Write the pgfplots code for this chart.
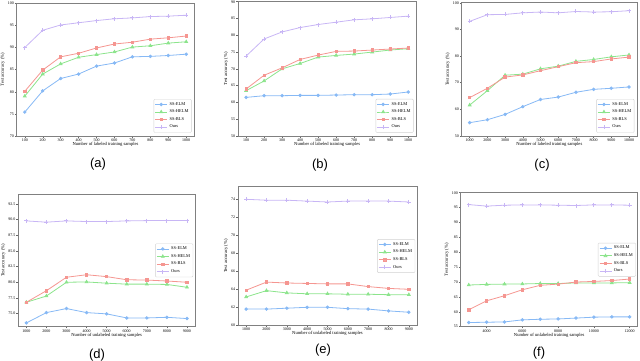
\documentclass[border=0pt]{standalone}
\usepackage{fontspec}
\setmainfont{Liberation Serif}
\newfontfamily\arialfont{Liberation Sans}
\usepackage{pgfplots}
\pgfplotsset{compat=1.18}

\definecolor{celm}{RGB}{135,185,245}
\definecolor{chelm}{RGB}{140,228,140}
\definecolor{cbls}{RGB}{245,150,145}
\definecolor{cours}{RGB}{200,182,245}

\pgfplotsset{
  panel/.style={scale only axis,
    axis line style={gray,line width=0.6pt},
    tick style={gray!80!black,line width=0.4pt},
    tick align=outside, major tick length=1.8pt,
    xtick pos=bottom, ytick pos=left,
    scaled x ticks=false, scaled y ticks=false,
    tick label style={font=\fontsize{4}{4.5}\selectfont,inner sep=0.8pt},
    label style={font=\fontsize{4.6}{5}\selectfont,inner sep=0.6pt},
    xlabel style={yshift=1pt},
    ylabel style={yshift=1.5pt},
    /pgf/number format/assume math mode=true,
    /pgf/number format/1000 sep={},
    ylabel={Test accuracy (\%)},
    enlarge x limits=0.05,
    legend cell align=left,
    legend style={font=\fontsize{4.4}{5}\selectfont, draw=gray!35, rounded corners=1pt,
      fill=white, fill opacity=0.85, text opacity=1, inner sep=1pt, row sep=-0.8pt},
    legend image code/.code={\draw[mark repeat=2,mark phase=2] plot coordinates {(0pt,0pt)(6pt,0pt)(12pt,0pt)};},
  },
  lowright/.style={legend style={at={(0.985,0.025)},anchor=south east}},
  midright/.style={legend style={at={(0.99,0.5)},anchor=east}},
  elm/.style={color=celm,line width=0.8pt,mark=*,mark size=1.3pt},
  helm/.style={color=chelm,line width=0.8pt,mark=triangle*,mark size=1.6pt},
  bls/.style={color=cbls,line width=0.8pt,mark=square*,mark size=1.2pt},
  ours/.style={color=cours,line width=0.8pt,mark=+,mark size=2pt,mark options={line width=0.9pt}},
}

\begin{document}
\begin{tikzpicture}
\path[use as bounding box] (0pt,0pt) rectangle (640pt,361pt);

% (a)
\begin{axis}[panel,lowright,at={(16.7pt,225pt)},anchor=south west,width=177.6pt,height=132.7pt,
  ymin=70,ymax=100,ytick={70,75,...,100},xtick={100,200,...,1000},
  xlabel={Number of labeled training samples}]
\addplot[elm] coordinates {(100,75.4)(200,80.2)(300,83.0)(400,84.0)(500,85.8)(600,86.5)(700,87.9)(800,88.0)(900,88.2)(1000,88.5)};
\addplot[helm] coordinates {(100,79.0)(200,84.0)(300,86.3)(400,87.8)(500,88.4)(600,89.0)(700,90.1)(800,90.4)(900,91.0)(1000,91.3)};
\addplot[bls] coordinates {(100,80.1)(200,84.9)(300,87.9)(400,88.7)(500,89.9)(600,90.8)(700,91.2)(800,91.9)(900,92.2)(1000,92.6)};
\addplot[ours] coordinates {(100,90.0)(200,93.9)(300,95.1)(400,95.6)(500,96.1)(600,96.5)(700,96.7)(800,97.0)(900,97.1)(1000,97.3)};
\legend{SS-ELM,SS-HELM,SS-BLS,Ours}
\end{axis}

% (b)
\begin{axis}[panel,lowright,at={(238pt,225pt)},anchor=south west,width=178.3pt,height=134.3pt,
  ymin=50,ymax=90,ytick={50,55,...,90},xtick={100,200,...,1000},
  xlabel={Number of labeled training samples}]
\addplot[elm] coordinates {(100,61.5)(200,62.0)(300,62.0)(400,62.1)(500,62.1)(600,62.2)(700,62.3)(800,62.3)(900,62.5)(1000,63.1)};
\addplot[helm] coordinates {(100,63.5)(200,66.4)(300,70.0)(400,71.6)(500,73.5)(600,74.0)(700,74.4)(800,75.0)(900,75.6)(1000,76.0)};
\addplot[bls] coordinates {(100,64.0)(200,68.1)(300,70.3)(400,72.8)(500,74.1)(600,75.2)(700,75.3)(800,75.6)(900,75.9)(1000,76.2)};
\addplot[ours] coordinates {(100,73.8)(200,78.9)(300,81.0)(400,82.3)(500,83.2)(600,83.9)(700,84.6)(800,84.9)(900,85.3)(1000,85.7)};
\legend{SS-ELM,SS-HELM,SS-BLS,Ours}
\end{axis}

% (c)
\begin{axis}[panel,lowright,at={(461.7pt,225pt)},anchor=south west,width=175.3pt,height=133.3pt,
  ymin=50,ymax=100,ytick={50,60,...,100},xtick={1000,2000,...,10000},
  xlabel={Number of labeled training samples}]
\addplot[elm] coordinates {(1000,55.0)(2000,56.1)(3000,58.1)(4000,61.0)(5000,63.7)(6000,64.6)(7000,66.4)(8000,67.5)(9000,67.9)(10000,68.4)};
\addplot[helm] coordinates {(1000,61.6)(2000,67.0)(3000,72.8)(4000,73.2)(5000,75.2)(6000,76.2)(7000,78.0)(8000,78.7)(9000,79.7)(10000,80.4)};
\addplot[bls] coordinates {(1000,64.4)(2000,67.9)(3000,72.1)(4000,72.9)(5000,74.5)(6000,76.0)(7000,77.5)(8000,77.9)(9000,78.9)(10000,79.6)};
\addplot[ours] coordinates {(1000,93.0)(2000,95.5)(3000,95.6)(4000,96.2)(5000,96.5)(6000,96.2)(7000,96.7)(8000,96.5)(9000,96.6)(10000,97.0)};
\legend{SS-ELM,SS-HELM,SS-BLS,Ours}
\end{axis}

% (d)
\begin{axis}[panel,midright,at={(18.3pt,34.3pt)},anchor=south west,width=176.7pt,height=132.7pt,
  ymin=72.9,ymax=94.1,ytick={75,77.5,...,92.5},xtick={1000,2000,...,9000},
  yticklabel style={/pgf/number format/fixed,/pgf/number format/fixed zerofill,/pgf/number format/precision=1},
  xlabel={Number of unlabeled training samples}]
\addplot[elm] coordinates {(1000,73.5)(2000,75.15)(3000,75.8)(4000,75.15)(5000,74.95)(6000,74.3)(7000,74.3)(8000,74.4)(9000,74.2)};
\addplot[helm] coordinates {(1000,76.8)(2000,77.8)(3000,80.0)(4000,80.05)(5000,79.85)(6000,79.7)(7000,79.7)(8000,79.65)(9000,79.2)};
\addplot[bls] coordinates {(1000,76.8)(2000,78.65)(3000,80.8)(4000,81.2)(5000,80.9)(6000,80.4)(7000,80.35)(8000,80.2)(9000,80.0)};
\addplot[ours] coordinates {(1000,89.8)(2000,89.6)(3000,89.8)(4000,89.7)(5000,89.7)(6000,89.8)(7000,89.85)(8000,89.85)(9000,89.85)};
\legend{SS-ELM,SS-HELM,SS-BLS,Ours}
\end{axis}

% (e)
\begin{axis}[panel,midright,at={(238pt,35.7pt)},anchor=south west,width=179pt,height=138.6pt,
  ymin=60,ymax=75.4,ytick={60,62,...,74},xtick={1000,2000,...,9000},
  xlabel={Number of unlabeled training samples}]
\addplot[elm] coordinates {(1000,61.8)(2000,61.8)(3000,61.9)(4000,62.0)(5000,62.0)(6000,61.85)(7000,61.8)(8000,61.6)(9000,61.45)};
\addplot[helm] coordinates {(1000,63.15)(2000,63.85)(3000,63.6)(4000,63.5)(5000,63.5)(6000,63.45)(7000,63.45)(8000,63.4)(9000,63.4)};
\addplot[bls] coordinates {(1000,63.9)(2000,64.8)(3000,64.7)(4000,64.65)(5000,64.6)(6000,64.6)(7000,64.3)(8000,64.1)(9000,64.0)};
\addplot[ours] coordinates {(1000,74.0)(2000,73.9)(3000,73.9)(4000,73.8)(5000,73.7)(6000,73.8)(7000,73.8)(8000,73.8)(9000,73.7)};
\legend{SS-ELM,SS-HELM,SS-BLS,Ours}
\end{axis}

% (f)
\begin{axis}[panel,midright,at={(460.7pt,34.3pt)},anchor=south west,width=177pt,height=134pt,
  ymin=55,ymax=100,ytick={55,60,...,100},xtick={4000,6000,...,12000},
  xlabel={Number of unlabeled training samples}]
\addplot[elm] coordinates {(3000,56.4)(4000,56.5)(5000,56.6)(6000,57.3)(7000,57.5)(8000,57.6)(9000,57.9)(10000,58.2)(11000,58.3)(12000,58.3)};
\addplot[helm] coordinates {(3000,69.0)(4000,69.2)(5000,69.3)(6000,69.35)(7000,69.5)(8000,69.5)(9000,69.7)(10000,69.7)(11000,69.7)(12000,69.8)};
\addplot[bls] coordinates {(3000,60.7)(4000,63.7)(5000,65.4)(6000,67.4)(7000,68.9)(8000,69.3)(9000,70.0)(10000,70.2)(11000,70.5)(12000,71.0)};
\addplot[ours] coordinates {(3000,96.0)(4000,95.5)(5000,95.8)(6000,95.9)(7000,95.9)(8000,95.8)(9000,95.7)(10000,95.9)(11000,95.9)(12000,95.8)};
\legend{SS-ELM,SS-HELM,SS-BLS,Ours}
\end{axis}

\begin{scope}[every node/.style={font=\arialfont\fontsize{13}{15}\selectfont,inner sep=0pt}]
\node at (98pt,197pt) {(a)};
\node at (320pt,196pt) {(b)};
\node at (542pt,196pt) {(c)};
\node at (97pt,6pt) {(d)};
\node at (323pt,11pt) {(e)};
\node at (539pt,8pt) {(f)};
\end{scope}
\end{tikzpicture}
\end{document}
